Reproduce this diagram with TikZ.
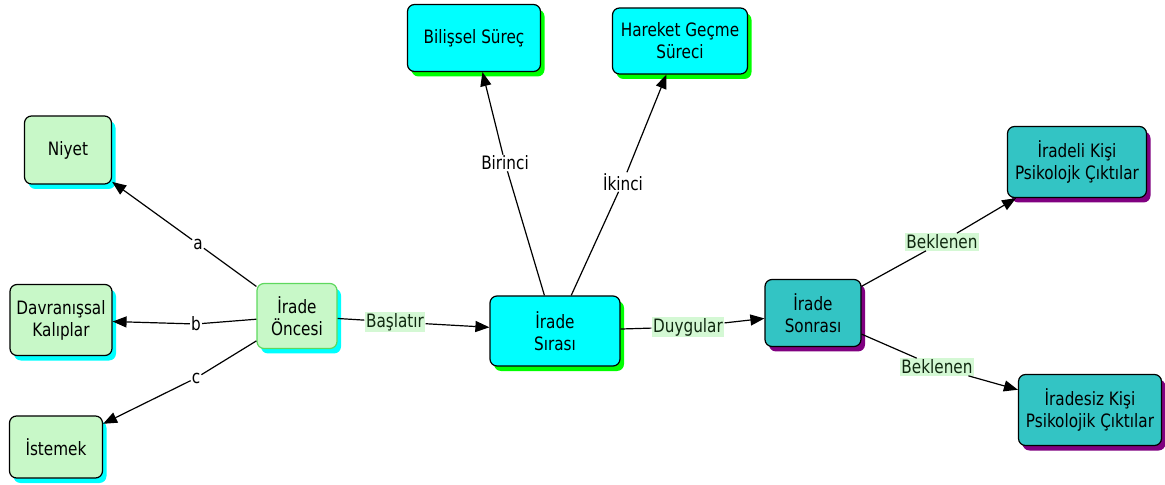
\documentclass[tikz,border=0pt]{standalone}
\usepackage{fontspec}
\setmainfont{DejaVu Sans Condensed}[FakeStretch=0.92]
\usetikzlibrary{shadows,arrows.meta}

\definecolor{mint}{HTML}{C8F8C8}
\definecolor{mintedge}{HTML}{5ED85E}
\definecolor{aquafill}{HTML}{00FFFF}
\definecolor{brightgreen}{HTML}{00FF00}
\definecolor{tealfill}{HTML}{33C4C4}
\definecolor{plumshade}{HTML}{800080}
\definecolor{tagfill}{HTML}{D4F8D4}
\definecolor{tagtext}{HTML}{102810}

\tikzset{
  txt/.style={font=\fontsize{18.5}{22}\selectfont},
  box/.style={txt, rectangle, rounded corners=7bp, draw=black, line width=1.2bp,
              align=center, inner sep=2bp},
  greenbox/.style={box, fill=mint,
              drop shadow={shadow xshift=4bp, shadow yshift=-5bp, fill=aquafill, opacity=1}},
  cyanbox/.style={box, fill=aquafill,
              drop shadow={shadow xshift=4bp, shadow yshift=-5bp, fill=brightgreen, opacity=1}},
  tealbox/.style={box, fill=tealfill,
              drop shadow={shadow xshift=4bp, shadow yshift=-5bp, fill=plumshade, opacity=1}},
  wire/.style={line width=1.2bp},
  link/.style={wire, -{Triangle[length=14bp,width=11bp]}},
  plaintag/.style={txt, fill=white, inner sep=1bp},
  greentag/.style={txt, text=tagtext, fill=tagfill, inner sep=1.5bp},
}

\begin{document}
\begin{tikzpicture}[x=1bp,y=-1bp]
  \useasboundingbox (0,0) rectangle (1165,485);

  % left column
  \node[greenbox, minimum width=87bp, minimum height=68bp] (niyet) at (68,150) {Niyet};
  \node[greenbox, minimum width=102bp, minimum height=71bp] (davranis) at (61,320) {Davranışsal\\Kalıplar};
  \node[greenbox, minimum width=93bp, minimum height=62bp] (istemek) at (56,447) {İstemek};

  % before the will
  \node[greenbox, draw=mintedge, minimum width=80bp, minimum height=65bp] (oncesi) at (297,316) {İrade\\Öncesi};

  % the will sequence
  \node[cyanbox, minimum width=130bp, minimum height=70bp] (sirasi) at (555,331) {İrade\\Sırası};
  \node[cyanbox, minimum width=133bp, minimum height=67bp] (bilissel) at (474,38) {Bilişsel Süreç};
  \node[cyanbox, minimum width=135bp, minimum height=66bp] (hareket) at (680,41) {Hareket Geçme\\Süreci};

  % after the will
  \node[tealbox, minimum width=96bp, minimum height=67bp] (sonrasi) at (813,313) {İrade\\Sonrası};
  \node[tealbox, minimum width=139bp, minimum height=71bp] (iradeli) at (1077,162) {İradeli Kişi\\Psikolojk Çıktılar};
  \node[tealbox, minimum width=143bp, minimum height=71bp] (iradesiz) at (1090,410) {İradesiz Kişi\\Psikolojik Çıktılar};

  % linking phrases
  \node[plaintag] (la) at (198,244) {a};
  \node[plaintag] (lb) at (196,324) {b};
  \node[plaintag] (lc) at (196,378) {c};
  \node[greentag] (lbas) at (395,322) {Başlatır};
  \node[plaintag] (lbir) at (505,163) {Birinci};
  \node[plaintag] (liki) at (623,182) {İkinci};
  \node[greentag] (lduy) at (688,327) {Duygular};
  \node[greentag] (lbek1) at (942,242) {Beklenen};
  \node[greentag] (lbek2) at (937,367) {Beklenen};

  % connectors: concept -- phrase -> concept
  \draw[wire] (oncesi) -- (la);   \draw[link] (la) -- (niyet);
  \draw[wire] (oncesi) -- (lb);   \draw[link] (lb) -- (davranis);
  \draw[wire] (oncesi) -- (lc);   \draw[link] (lc) -- (istemek);
  \draw[wire] (oncesi) -- (lbas); \draw[link] (lbas) -- (sirasi);
  \draw[wire] (sirasi) -- (lbir); \draw[link] (lbir) -- (bilissel);
  \draw[wire] (sirasi) -- (liki); \draw[link] (liki) -- (hareket);
  \draw[wire] (sirasi) -- (lduy); \draw[link] (lduy) -- (sonrasi);
  \draw[wire] (sonrasi) -- (lbek1); \draw[link] (lbek1) -- (iradeli);
  \draw[wire] (sonrasi) -- (lbek2); \draw[link] (lbek2) -- (iradesiz);
\end{tikzpicture}
\end{document}
